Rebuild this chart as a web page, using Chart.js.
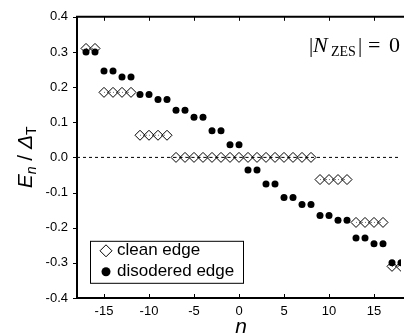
<!DOCTYPE html>
<html>
<head>
<meta charset="utf-8">
<script src="https://cdn.jsdelivr.net/npm/chart.js@4.4.1/dist/chart.umd.min.js"></script>
<style>
  html, body { margin: 0; padding: 0; background: #fff; }
  canvas { display: block; }
</style>
</head>
<body>
<canvas id="chart" width="407" height="334"></canvas>
<script>
// level index n
const nValues = [-17, -16, -15, -14, -13, -12, -11, -10, -9, -8, -7, -6, -5, -4, -3, -2, -1, 0,
                 1, 2, 3, 4, 5, 6, 7, 8, 9, 10, 11, 12, 13, 14, 15, 16, 17, 18];

// E_n / Delta_T for the clean edge (diamonds)
const cleanEdge = [0.31, 0.31, 0.185, 0.185, 0.185, 0.185, 0.063, 0.063, 0.063, 0.063,
                   0, 0, 0, 0, 0, 0, 0, 0, 0, 0, 0, 0, 0, 0, 0, 0,
                   -0.063, -0.063, -0.063, -0.063, -0.185, -0.185, -0.185, -0.185, -0.31, -0.31];

// E_n / Delta_T for the disordered edge (filled circles)
const disorderedEdge = [0.300, 0.300, 0.246, 0.246, 0.229, 0.229, 0.179, 0.179, 0.165, 0.165,
                        0.134, 0.134, 0.114, 0.114, 0.076, 0.076, 0.036, 0.036,
                        -0.036, -0.036, -0.076, -0.076, -0.114, -0.114, -0.134, -0.134,
                        -0.165, -0.165, -0.179, -0.179, -0.229, -0.229, -0.246, -0.246, -0.300, -0.300];

// dashed reference line at zero
const zeroLineX = [-18, 18];
const zeroLineY = [0, 0];

const xTicks = [-15, -10, -5, 0, 5, 10, 15];
const yTicks = [-0.4, -0.3, -0.2, -0.1, 0, 0.1, 0.2, 0.3, 0.4];
const legendLabels = ['clean edge', 'disodered edge'];

const SANS = '"Liberation Sans", Arial, sans-serif';
const SERIF = '"Liberation Serif", "Times New Roman", serif';

function toPoints(xs, ys) {
    return xs.map((x, i) => ({ x: x, y: ys[i] }));
}

// frame, inward ticks, legend box and the math labels
const decorations = {
    id: 'decorations',
    afterDraw(chart) {
        const ctx = chart.ctx;
        const area = chart.chartArea;
        const xs = chart.scales.x;
        const ys = chart.scales.y;
        ctx.save();

        // frame (right side is off the picture)
        ctx.strokeStyle = '#000';
        ctx.lineWidth = 2;
        ctx.beginPath();
        ctx.moveTo(area.right + 3, area.top);
        ctx.lineTo(area.left, area.top);
        ctx.lineTo(area.left, area.bottom);
        ctx.lineTo(area.right + 3, area.bottom);
        ctx.stroke();

        ctx.lineWidth = 1;
        ctx.beginPath();
        xTicks.forEach(v => {
            const px = Math.round(xs.getPixelForValue(v)) + 0.5;
            ctx.moveTo(px, area.top);
            ctx.lineTo(px, area.top + 4);
            ctx.moveTo(px, area.bottom);
            ctx.lineTo(px, area.bottom - 4);
        });
        yTicks.forEach(v => {
            const py = Math.round(ys.getPixelForValue(v)) + 0.5;
            ctx.moveTo(area.left - 4, py);
            ctx.lineTo(area.left, py);
        });
        ctx.stroke();

        // legend box
        const lx = area.left + 13, ly = area.top + 224;
        ctx.fillStyle = '#fff';
        ctx.fillRect(lx, ly, 153, 42);
        ctx.strokeRect(lx + 0.5, ly + 0.5, 153, 42);
        // diamond marker
        const mx = lx + 16, my1 = ly + 10, my2 = ly + 31;
        ctx.beginPath();
        ctx.moveTo(mx, my1 - 6);
        ctx.lineTo(mx + 6, my1);
        ctx.lineTo(mx, my1 + 6);
        ctx.lineTo(mx - 6, my1);
        ctx.closePath();
        ctx.stroke();
        // circle marker
        ctx.fillStyle = '#000';
        ctx.beginPath();
        ctx.arc(mx, my2, 4.5, 0, Math.PI * 2);
        ctx.fill();
        ctx.font = '17px ' + SANS;
        ctx.textBaseline = 'middle';
        ctx.textAlign = 'left';
        ctx.fillText(legendLabels[0], lx + 27, my1);
        ctx.fillText(legendLabels[1], lx + 27, my2);

        // |N_ZES| = 0
        ctx.textBaseline = 'alphabetic';
        ctx.font = '21px ' + SERIF;
        ctx.fillText('|', 309, 52);
        ctx.font = 'italic 22px ' + SERIF;
        ctx.fillText('N', 313, 52);
        ctx.font = '14px ' + SERIF;
        ctx.fillText('ZES', 331, 56);
        ctx.font = '21px ' + SERIF;
        ctx.fillText('|', 358, 52);
        ctx.font = '22px ' + SERIF;
        ctx.fillText('=', 368, 52);
        ctx.fillText('0', 389, 52);

        // x axis title
        ctx.font = 'italic 21px ' + SANS;
        ctx.textAlign = 'center';
        ctx.fillText('n', xs.getPixelForValue(0) + 2, 333);

        // y axis title, rotated
        ctx.translate(32, (area.top + area.bottom) / 2);
        ctx.rotate(-Math.PI / 2);
        ctx.textAlign = 'left';
        const parts = [
            { t: 'E', f: 'italic 21px ' + SANS, dy: 0 },
            { t: 'n', f: 'italic 14px ' + SANS, dy: 4 },
            { t: ' / ', f: '21px ' + SANS, dy: 0 },
            { t: '\u0394', f: 'italic 21px ' + SANS, dy: 0 },
            { t: 'T', f: '14px ' + SANS, dy: 4 }
        ];
        let total = 0;
        parts.forEach(p => { ctx.font = p.f; p.w = ctx.measureText(p.t).width; total += p.w; });
        let cx = -total / 2;
        parts.forEach(p => {
            ctx.font = p.f;
            ctx.fillText(p.t, cx, p.dy);
            cx += p.w;
        });
        ctx.restore();
    }
};

new Chart(document.getElementById('chart'), {
    type: 'scatter',
    data: {
        datasets: [
            {
                label: 'zero',
                type: 'line',
                data: toPoints(zeroLineX, zeroLineY),
                borderColor: '#000',
                borderWidth: 1,
                borderDash: [3, 3],
                pointRadius: 0,
                order: 3
            },
            {
                label: legendLabels[0],
                data: toPoints(nValues, cleanEdge),
                showLine: true,
                borderWidth: 1,
                borderDash: [1, 2],
                borderColor: '#777',
                segment: {
                    borderColor: c => c.p0.parsed.y === c.p1.parsed.y ? '#777' : 'rgba(0,0,0,0)'
                },
                pointStyle: 'rectRot',
                pointRadius: 5,
                pointBackgroundColor: 'rgba(0,0,0,0)',
                pointBorderColor: '#000',
                pointBorderWidth: 1,
                order: 2
            },
            {
                label: legendLabels[1],
                data: toPoints(nValues, disorderedEdge),
                pointStyle: 'circle',
                pointRadius: 3.5,
                pointBackgroundColor: '#000',
                pointBorderColor: '#000',
                pointBorderWidth: 0,
                order: 1
            }
        ]
    },
    options: {
        responsive: false,
        animation: false,
        layout: { padding: { top: 14, right: 0, left: 0, bottom: 0 } },
        plugins: {
            legend: { display: false },
            tooltip: { enabled: false }
        },
        scales: {
            x: {
                type: 'linear',
                min: -18,
                max: 18,
                afterBuildTicks: s => { s.ticks = xTicks.map(v => ({ value: v })); },
                afterFit: s => { s.height = 36; },
                grid: { display: false, drawTicks: false },
                border: { display: false },
                ticks: {
                    color: '#000',
                    font: { family: SANS, size: 13 },
                    padding: 6,
                    maxRotation: 0,
                    autoSkip: false
                }
            },
            y: {
                type: 'linear',
                min: -0.4,
                max: 0.4,
                afterBuildTicks: s => { s.ticks = yTicks.map(v => ({ value: v })); },
                afterFit: s => { s.width = 77; },
                grid: { display: false, drawTicks: false },
                border: { display: false },
                ticks: {
                    color: '#000',
                    font: { family: SANS, size: 13 },
                    padding: 9,
                    callback: v => v.toFixed(1)
                }
            }
        }
    },
    plugins: [decorations]
});
</script>
</body>
</html>
